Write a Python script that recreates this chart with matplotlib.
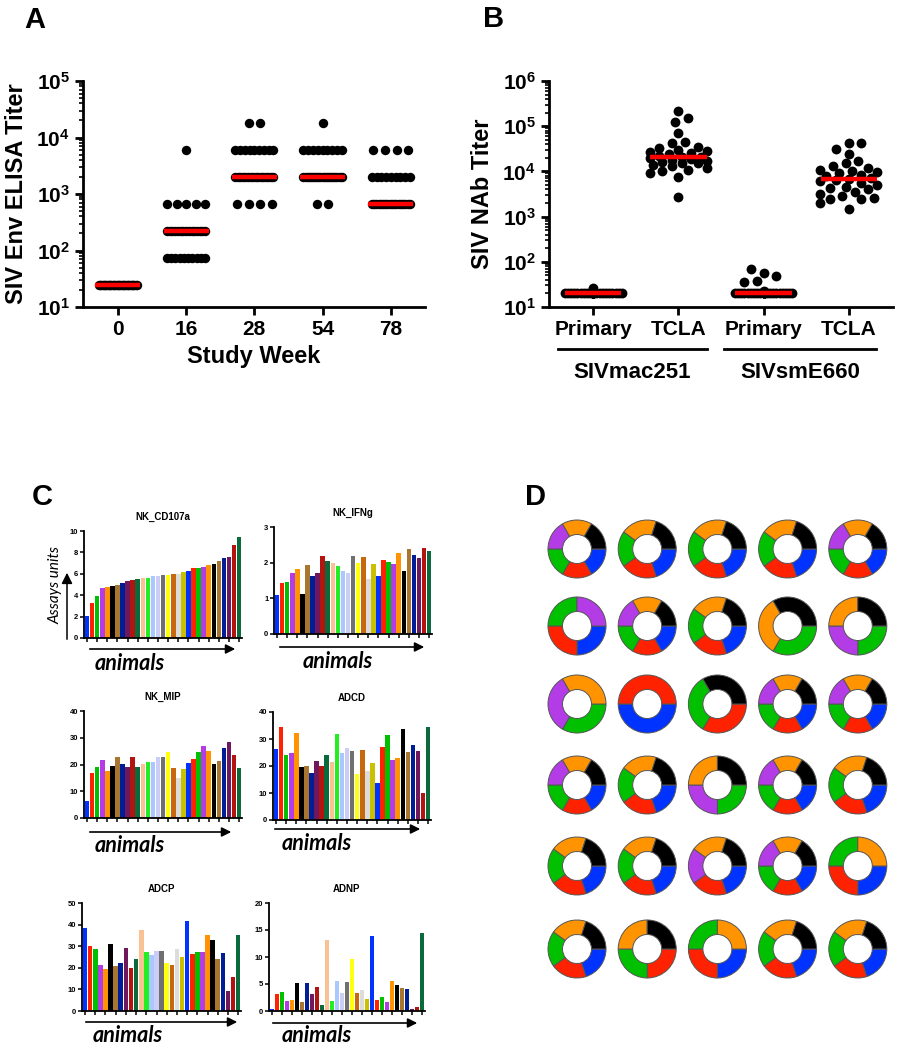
import numpy as np
import matplotlib.pyplot as plt
from matplotlib.ticker import LogLocator, NullFormatter, FuncFormatter

plt.rcParams['font.family'] = ['Liberation Sans', 'DejaVu Sans']
plt.rcParams['font.weight'] = 'bold'
plt.rcParams['mathtext.fontset'] = 'custom'
plt.rcParams['mathtext.rm'] = 'Liberation Sans:bold'
plt.rcParams['mathtext.bf'] = 'Liberation Sans:bold'

W, H = 904, 1050

# ---- panel A: ELISA titers (3-fold dilution levels, counts of animals per level)
weeks = ['0', '16', '28', '54', '78']
elisa_levels = [25, 75, 225, 675, 2025, 6075, 18225]
wk0_counts = [31, 0, 0, 0, 0, 0, 0]
wk16_counts = [0, 10, 15, 5, 0, 1, 0]
wk28_counts = [0, 0, 0, 4, 16, 9, 2]
wk54_counts = [0, 0, 0, 2, 19, 9, 1]
wk78_counts = [0, 0, 0, 18, 9, 4, 0]

# ---- panel B: NAb titers
nab_groups = ['Primary', 'TCLA', 'Primary', 'TCLA']
mac_primary = [27] + [20] * 30
mac_tcla = [220000, 150000, 125000, 70000, 45000, 43000, 35000, 33000, 30000, 28000,
            27000, 25000, 24000, 22000, 21000, 21000, 20000, 19000, 18000, 17000,
            16000, 15000, 15000, 14000, 13000, 12000, 11000, 10000, 9000, 7500, 2700]
sm_primary = [56, 48, 37, 36, 69, 23] + [20] * 25
sm_tcla = [43000, 42000, 32000, 24000, 17000, 15000, 13000, 12000, 11000, 10000,
           9500, 9000, 8500, 8000, 7000, 6700, 6300, 6000, 5500, 5000,
           4500, 4200, 4000, 3500, 3200, 2800, 2600, 2500, 2400, 2000, 1500]

# ---- panel C: per-animal assay values
nk_cd107a = [2.1, 3.3, 3.9, 4.65, 4.75, 4.85, 5.0, 5.1, 5.35, 5.4, 5.55, 5.6, 5.65, 5.8, 5.8,
             5.9, 5.9, 5.95, 6.0, 6.15, 6.25, 6.5, 6.55, 6.65, 6.85, 6.95, 7.2, 7.45, 7.6, 8.65, 9.45]
nk_ifng = [1.1, 1.42, 1.45, 1.7, 1.81, 1.13, 1.93, 1.62, 1.7, 2.2, 2.04, 2.0, 1.91, 1.76, 1.7,
           2.2, 1.98, 2.17, 1.55, 1.96, 1.63, 2.07, 2.02, 1.97, 2.27, 1.78, 2.37, 2.22, 2.12, 2.4, 2.33]
nk_mip = [6.3, 16.8, 19, 21.6, 17.4, 19.4, 22.8, 20.2, 19, 22.7, 19.2, 20.3, 21.1, 21, 22.8,
          22.7, 24.7, 18.8, 14.8, 18.3, 20.5, 21.9, 24.6, 26.9, 25.2, 20.1, 21.3, 26.2, 28.5, 23.6, 18.7]
adcd = [26.3, 34.6, 24, 24.8, 32.3, 19.8, 19.9, 17.5, 21.9, 20, 24, 21.4, 31.7, 24.7, 26.5,
        25.4, 17.2, 26.1, 18, 21, 13.6, 27, 31.6, 22.3, 23.1, 33.7, 25.2, 27.7, 25.5, 10.1, 34.5]
adcp = [38.3, 30.3, 28.7, 21.3, 19.6, 31.2, 20.9, 22, 29.3, 20.1, 24.3, 37.6, 27.2, 25.9, 27.8,
        27.9, 22.1, 21.3, 28.6, 24.9, 41.7, 26.6, 27.1, 27.1, 35, 32.8, 24.2, 26.9, 9.2, 15.8, 35]
adnp = [0.4, 3.2, 3.5, 1.8, 2.0, 5.1, 1.6, 5.1, 3.2, 4.4, 1.2, 13.1, 1.9, 5.5, 3.4,
        5.3, 9.6, 3.4, 3.8, 2.3, 13.8, 2.0, 2.6, 1.7, 5.5, 4.8, 4.2, 4.1, 0.3, 0.8, 14.5]

base_colors = ['#0033ff', '#ff2200', '#00c000', '#b43ce6', '#ff9400', '#000000', '#a8762e',
               '#001e96', '#70185e', '#b41410', '#0a6a3c', '#f8c294', '#22ee22', '#a8c8ff',
               '#cccdf6', '#707070', '#ffff10', '#c8680e', '#dcdcdc', '#c8c000']
bar_colors = base_colors + base_colors[:11]

# ---- panel D: donut shares (blue, red, green, purple, orange, black), row-major 6x5
d_blue   = [1, 1, 1, 1, 1,  1, 1, 1, 0, 0,  0, 1, 0, 1, 1,  1, 1, 0, 1, 1,  1, 1, 1, 1, 1,  1, 0, 1, 1, 1]
d_red    = [1, 1, 1, 1, 1,  1, 1, 1, 0, 0,  0, 1, 1, 1, 1,  1, 1, 0, 1, 1,  1, 1, 1, 1, 1,  1, 1, 1, 1, 1]
d_green  = [1, 1, 1, 1, 1,  1, 1, 1, 1, 1,  1, 0, 1, 1, 1,  1, 1, 1, 1, 1,  1, 1, 0, 1, 1,  1, 1, 1, 1, 1]
d_purple = [1, 0, 0, 0, 1,  1, 1, 0, 0, 1,  1, 0, 0, 1, 1,  1, 0, 1, 1, 0,  0, 0, 1, 1, 0,  0, 0, 0, 0, 0]
d_orange = [1, 1, 1, 1, 1,  0, 1, 1, 1, 1,  1, 0, 0, 1, 1,  1, 1, 1, 1, 1,  1, 1, 1, 1, 1,  1, 1, 1, 1, 1]
d_black  = [1, 1, 1, 1, 1,  0, 1, 1, 1, 1,  0, 0, 1, 1, 1,  1, 1, 1, 1, 1,  1, 1, 1, 1, 0,  1, 1, 0, 1, 1]
donut_colors = ['#0033ff', '#ff2200', '#00c000', '#b43ce6', '#ff9400', '#000000']


fig = plt.figure(figsize=(W / 100, H / 100), dpi=100)


def px_axes(left, top, right, bottom):
    return fig.add_axes([left / W, 1 - bottom / H, (right - left) / W, (bottom - top) / H])


def pow_fmt(v, p):
    return r'$\mathbf{10^{%d}}$' % round(np.log10(v))


def style_log(ax, top):
    ax.set_yscale('log')
    ax.set_ylim(10, 10 ** top)
    ax.yaxis.set_major_locator(LogLocator(base=10, numticks=10))
    ax.yaxis.set_minor_locator(LogLocator(base=10, subs=np.arange(2, 10), numticks=10))
    ax.yaxis.set_minor_formatter(NullFormatter())
    ax.yaxis.set_major_formatter(FuncFormatter(pow_fmt))
    for s in ['top', 'right']:
        ax.spines[s].set_visible(False)
    for s in ['left', 'bottom']:
        ax.spines[s].set_linewidth(2)
    ax.tick_params(which='major', length=6, width=2, labelsize=15)
    ax.tick_params(which='minor', length=3, width=1.2)
    ax.tick_params(axis='x', which='minor', length=0)


def swarm(vals, dx, dy, maxw):
    y = np.log10(vals) / dy
    step = 0.25
    cands = [0.0]
    k = 1
    while k * step * dx <= maxw:
        cands += [k * step, -k * step]
        k += 1
    placed = []
    xs = np.zeros(len(vals))
    for i in range(len(vals)):
        best, bestd = 0.0, -1
        for c in cands:
            d = min([np.hypot(c - px, y[i] - py) for px, py in placed], default=9)
            if d >= 1:
                best = c
                break
            if d > bestd:
                best, bestd = c, d
        xs[i] = best * dx
        placed.append((best, y[i]))
    return xs


# ===== Panel A
axA = px_axes(83, 81, 425, 307)
for i, counts in enumerate([wk0_counts, wk16_counts, wk28_counts, wk54_counts, wk78_counts]):
    for lev, n in zip(elisa_levels, counts):
        if n == 0:
            continue
        sp = min(0.17, 0.56 / (n - 1)) if n > 1 else 0
        offs = (np.arange(n) - (n - 1) / 2) * sp
        axA.scatter(i + offs, [lev] * n, s=46, color='black', lw=0, zorder=2, clip_on=False)
    med = np.median(np.repeat(elisa_levels, counts))
    axA.hlines(med, i - 0.33, i + 0.33, color='#ff0000', lw=3.2, zorder=3)
style_log(axA, 5)
axA.set_xlim(-0.51, 4.5)
axA.set_xticks(range(len(weeks)))
axA.set_xticklabels(weeks)
axA.set_xlabel('Study Week', fontsize=17, fontweight='bold', labelpad=4)
axA.set_ylabel('SIV Env ELISA Titer', fontsize=17, fontweight='bold', labelpad=6)

# ===== Panel B
axB = px_axes(549, 81, 893, 307)
for i, vals in enumerate([mac_primary, mac_tcla, sm_primary, sm_tcla]):
    xs = swarm(vals, 0.15, 0.2, 0.36)
    axB.scatter(i + xs, vals, s=50, color='black', lw=0, zorder=2, clip_on=False)
    axB.hlines(np.median(vals), i - 0.33, i + 0.33, color='#ff0000', lw=3.2, zorder=3)
style_log(axB, 6)
axB.set_xlim(-0.52, 3.52)
axB.set_xticks(range(len(nab_groups)))
axB.set_xticklabels(nab_groups)
axB.set_ylabel('SIV NAb Titer', fontsize=17, fontweight='bold', labelpad=6)
trB = axB.get_xaxis_transform()
for x0, x1, name in [(-0.42, 1.34, 'SIVmac251'), (1.54, 3.32, 'SIVsmE660')]:
    axB.plot([x0, x1], [-0.186, -0.186], color='black', lw=2, transform=trB, clip_on=False)
    axB.text((x0 + x1) / 2, -0.29, name, transform=trB, ha='center', va='center',
             fontsize=16, fontweight='bold')

# ===== Panel C
bar_specs = [
    ((84, 531, 242, 638), 'NK_CD107a', nk_cd107a, 10, 2),
    ((274, 527, 432, 634), 'NK_IFNg', nk_ifng, 3, 1),
    ((84, 711, 242, 818), 'NK_MIP', nk_mip, 40, 10),
    ((273, 712, 431, 820), 'ADCD', adcd, 40, 10),
    ((82, 903, 241, 1011), 'ADCP', adcp, 50, 10),
    ((269, 903, 425, 1011), 'ADNP', adnp, 20, 5),
]
for box, title, vals, ymax, ystep in bar_specs:
    ax = px_axes(*box)
    x = np.arange(len(vals))
    ax.bar(x, vals, width=0.9, color=bar_colors, edgecolor='none')
    ax.set_xlim(-0.6, len(vals) - 0.45)
    ax.set_ylim(0, ymax)
    ax.set_yticks(np.arange(0, ymax + 0.001, ystep))
    ax.set_xticks(x[::2])
    ax.set_xticklabels([])
    for s in ['top', 'right']:
        ax.spines[s].set_visible(False)
    for s in ['left', 'bottom']:
        ax.spines[s].set_linewidth(1.3)
    ax.tick_params(length=3, width=1.1, labelsize=5.5, pad=1)
    ax.set_title(title, fontsize=7, fontweight='bold', pad=8)

# ===== Panel D
axD = px_axes(530, 500, 900, 1000)
row_y = [549, 626, 704, 785, 866, 949]
shares = np.array([d_blue, d_red, d_green, d_purple, d_orange, d_black], dtype=float)
for k in range(shares.shape[1]):
    r, c = divmod(k, 5)
    keep = shares[:, k] > 0
    axD.pie(shares[keep, k], colors=[col for col, m in zip(donut_colors, keep) if m],
            center=(577 + 70.2 * c, -row_y[r]), radius=29, startangle=0, counterclock=False,
            frame=True, wedgeprops=dict(width=14.5, edgecolor='#555555', linewidth=0.7))
axD.set_xlim(530, 900)
axD.set_ylim(-1000, -500)
axD.set_aspect('equal')
axD.axis('off')

# ===== overlay: panel letters and arrows
ov = fig.add_axes([0, 0, 1, 1])
ov.set_xlim(0, W)
ov.set_ylim(H, 0)
ov.axis('off')
ov.patch.set_alpha(0)
for lx, ly, lab in [(35, 20, 'A'), (494, 19, 'B'), (42, 497, 'C'), (536, 497, 'D')]:
    ov.text(lx, ly, lab, fontsize=21, fontweight='bold', ha='center', va='center')

arrows = [(87, 238, 649, 130, 664), (277, 427, 647, 338, 661), (87, 234, 832, 130, 846),
          (272, 423, 829, 317, 843), (83, 240, 1022, 128, 1036), (270, 420, 1023, 317, 1036)]
for x0, x1, ay, tx, ty in arrows:
    ov.annotate('', xy=(x1, ay), xytext=(x0, ay),
                arrowprops=dict(arrowstyle='-|>', lw=1.2, color='black', mutation_scale=14))
    ov.text(tx, ty, 'animals', fontsize=15.5, fontweight='bold', style='italic',
            family=['Lato', 'DejaVu Sans'], ha='center', va='center')
ov.annotate('', xy=(67, 570), xytext=(67, 642),
            arrowprops=dict(arrowstyle='-|>', lw=1.1, color='black', mutation_scale=16))
ov.text(56, 585, 'Assays units', fontsize=11, fontweight='normal', style='italic',
        family=['Lato', 'DejaVu Sans'], rotation=90, ha='center', va='center')

fig.savefig('out.png', dpi=100)
